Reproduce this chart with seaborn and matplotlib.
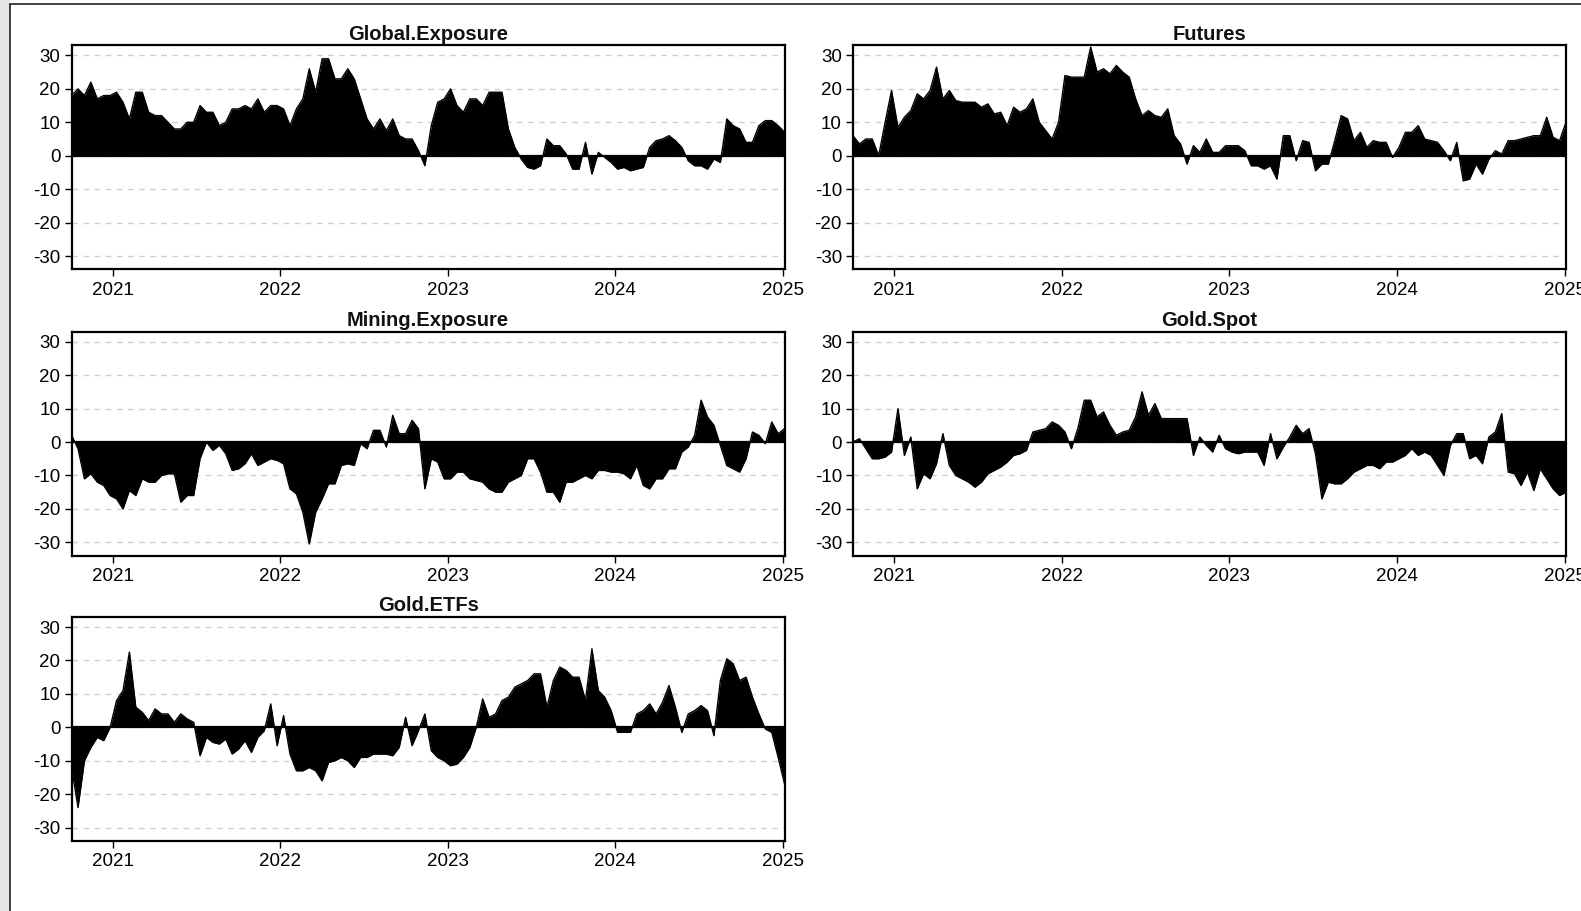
import numpy as np
import pandas as pd
import matplotlib
matplotlib.use("Agg")
import matplotlib.pyplot as plt
import matplotlib.dates as mdates
from matplotlib.patches import Rectangle
from matplotlib.lines import Line2D
import seaborn as sns

sns.set_theme(style="white")
plt.rcParams['font.family'] = ['Liberation Sans', 'DejaVu Sans']
plt.rcParams['axes.unicode_minus'] = False

# ---- data (bi-weekly readings, Oct 2020 .. Jan 2025) ----
dates = pd.date_range("2020-10-03", periods=112, freq="14D")

global_exposure = [
    18, 20, 18, 22, 17, 18, 18, 19, 16, 11,
    19, 19, 13, 12, 12, 10, 8, 8, 10, 10,
    15, 13, 13, 9, 10, 14, 14, 15, 14, 17,
    13, 15, 15, 14, 9, 14, 17, 26, 19, 29,
    29, 23, 23, 26, 23, 17, 11, 8, 11, 7.5,
    11, 6, 5, 5, 1.5, -3, 9, 16, 17, 20,
    15, 13, 17, 17, 15, 19, 19, 19, 8, 2.5,
    -1, -3.5, -4, -3, 5, 3, 3, 0.5, -4, -4,
    4, -5.5, 1, -0.5, -2, -4, -3.5, -4.5, -4, -3.5,
    2.5, 4.5, 5, 6, 4.5, 2.5, -1.5, -3, -3, -4,
    -1, -2, 11, 9, 8, 4, 4, 9, 10.5, 10.5,
    9, 7]

futures = [
    6, 3.5, 5, 5, 0, 10, 19.5, 8.5, 11.5, 13.5,
    18.5, 17, 19.5, 26.5, 17, 19.5, 16.5, 16, 16, 16,
    14.5, 15.5, 12.5, 13, 9, 14.5, 13, 14, 17, 10,
    7.5, 5, 10, 24, 23.5, 23.5, 23.5, 32.5, 25, 26,
    24.5, 27, 25, 23.5, 17, 12, 13.5, 12, 11.5, 14,
    6, 3.5, -2.5, 3, 1, 5, 1, 1, 3, 3,
    3, 1.5, -3, -3, -4, -3, -7, 6, 6, -1.5,
    4.5, 4, -4.5, -2.5, -2.5, 4.5, 12, 11, 4.5, 7,
    2.5, 4.5, 4, 4, -0.5, 2.5, 7, 7, 9, 5,
    4.5, 4, 1.5, -1.5, 4, -7.5, -7, -2.5, -5.5, -1,
    1.5, 0.5, 4.5, 4.5, 5, 5.5, 6, 6, 11.5, 5.5,
    4.5, 10]

mining_exposure = [
    2, -2, -11, -9.5, -12, -13, -16, -17, -20, -14.5,
    -16, -11, -12, -12, -10, -9.5, -9.5, -18, -16, -16,
    -5, 0, -2.5, -1, -3.5, -8.5, -8, -6.5, -3.5, -7,
    -6, -5, -5.5, -6.5, -14, -15.5, -21, -30.5, -21, -17,
    -12.5, -12.5, -7, -6.5, -7, -0.5, -2, 3.5, 3.5, -1.5,
    8, 2.5, 2.5, 6.5, 4, -14, -5, -6, -11, -11,
    -9, -9, -11, -11.5, -12, -14, -15, -15, -12, -11,
    -10, -5, -5, -9, -15, -15, -18, -12, -12, -11,
    -10, -11, -8.5, -8.5, -9, -9, -9.5, -11, -7, -13,
    -14, -11, -11, -8, -8, -3, -1.5, 2, 12.5, 7.5,
    5, -1, -7, -8, -9, -5, 3, 2, -0.5, 6,
    2.5, 4]

gold_spot = [
    0, 1, -2, -5, -5, -4.5, -3, 10, -4, 1.5,
    -14, -9.5, -11, -6.5, 2.5, -7, -10, -11, -12, -13.5,
    -12, -9.5, -8.5, -7.5, -6, -4, -3.5, -2.5, 3, 3.5,
    4, 6, 5, 3, -2, 4, 12.5, 12.5, 7.5, 9,
    5, 2, 3, 3.5, 7.5, 15, 8, 11.5, 7, 7,
    7, 7, 7, -4, 1.5, -1, -3, 2, -2, -3,
    -3.5, -3, -3, -3, -7, 2.5, -5, -1.5, 1.5, 5,
    2.5, 4, -3.5, -17, -12, -12.5, -12.5, -11, -9, -8,
    -7, -7, -8, -6, -6, -5, -4, -2, -4, -3,
    -4, -7, -10, -1, 2.5, 2.5, -5, -4, -6.5, 1.5,
    3, 8.5, -9, -9.5, -13, -9, -14.5, -8, -11, -14,
    -16, -15]

gold_etfs = [
    -12, -24, -10, -6, -3, -4, 0, 8, 11, 22.5,
    6, 4.5, 2, 5.5, 4, 4, 1.5, 4, 2.5, 1.5,
    -8.5, -3, -4.5, -5, -3.5, -8, -6.5, -4, -7.5, -3,
    -1, 7, -5.5, 3.5, -8, -13, -13, -12, -13, -16,
    -10.5, -10, -9, -10, -12, -9, -9, -8, -8, -8,
    -8.5, -6, 3, -5.5, -1, 4, -7, -9, -10, -11.5,
    -11, -9, -6, 0, 8.5, 3, 4, 8, 9, 12,
    13, 14, 16, 16, 6, 14, 18, 17, 15, 15,
    8, 23.5, 11, 9, 5, -1.5, -1.5, -1.5, 4, 5,
    7, 4, 7.5, 12.5, 6, -1.5, 4, 5, 6.5, 5,
    -2.5, 14, 20.5, 19, 14, 15, 9, 4, -0.5, -1.5,
    -9, -17]

series_names = ["Global.Exposure", "Futures", "Mining.Exposure", "Gold.Spot", "Gold.ETFs"]
series_values = [global_exposure, futures, mining_exposure, gold_spot, gold_etfs]
y_ticks = [-30, -20, -10, 0, 10, 20, 30]

# ---- layout ----
W, H = 1581, 911
fig = plt.figure(figsize=(W / 100, H / 100), dpi=100)
fig.patch.set_facecolor("white")

# screenshot frame
fig.add_artist(Rectangle((0, 0), 10 / W, 1, transform=fig.transFigure,
                         facecolor="#e6e6e6", edgecolor="none", zorder=0))
fig.add_artist(Line2D([10 / W, 10 / W], [0, 1 - 4 / H], transform=fig.transFigure,
                      color="#222222", lw=1.2))
fig.add_artist(Line2D([10 / W, 1], [1 - 4 / H, 1 - 4 / H], transform=fig.transFigure,
                      color="#222222", lw=1.2))

col_x = [71.6, 853.0]
ax_w = 713.0
row_top = [45.4, 331.7, 617.0]
ax_h = 224.0
slots = [(0, 0), (0, 1), (1, 0), (1, 1), (2, 0)]

for (r, c), name, vals in zip(slots, series_names, series_values):
    assert len(vals) == len(dates), name
    left = col_x[c] / W
    bottom = 1 - (row_top[r] + ax_h) / H
    ax = fig.add_axes([left, bottom, ax_w / W, ax_h / H])
    df = pd.DataFrame({"date": dates, "value": vals})

    for yv in y_ticks:
        ax.axhline(yv, color="#cfcfcf", lw=1.0, ls=(0, (4, 4)), zorder=1)
    ax.fill_between(df["date"], 0, df["value"], color="black", lw=0, zorder=2)
    sns.lineplot(data=df, x="date", y="value", ax=ax, color="black", lw=1.0, zorder=3)
    ax.axhline(0, color="black", lw=1.6, zorder=4)

    ax.set_xlim(dates[0], dates[-1])
    ax.set_ylim(-34, 33)
    ax.set_yticks(y_ticks)
    ax.set_yticklabels([str(v) for v in y_ticks])
    ax.xaxis.set_major_locator(mdates.YearLocator())
    ax.xaxis.set_major_formatter(mdates.DateFormatter("%Y"))
    ax.tick_params(axis="both", direction="out", length=5, width=1.0,
                   colors="black", labelsize=13.5, left=True, bottom=True, pad=3)
    ax.tick_params(axis="x", pad=4)
    for sp in ax.spines.values():
        sp.set_color("black")
        sp.set_linewidth(1.6)
    ax.set_xlabel("")
    ax.set_ylabel("")
    ax.set_title(name, fontweight="bold", fontsize=14.5, pad=4, color="#111111")
    ax.grid(False)

fig.savefig("out.png", dpi=100)
